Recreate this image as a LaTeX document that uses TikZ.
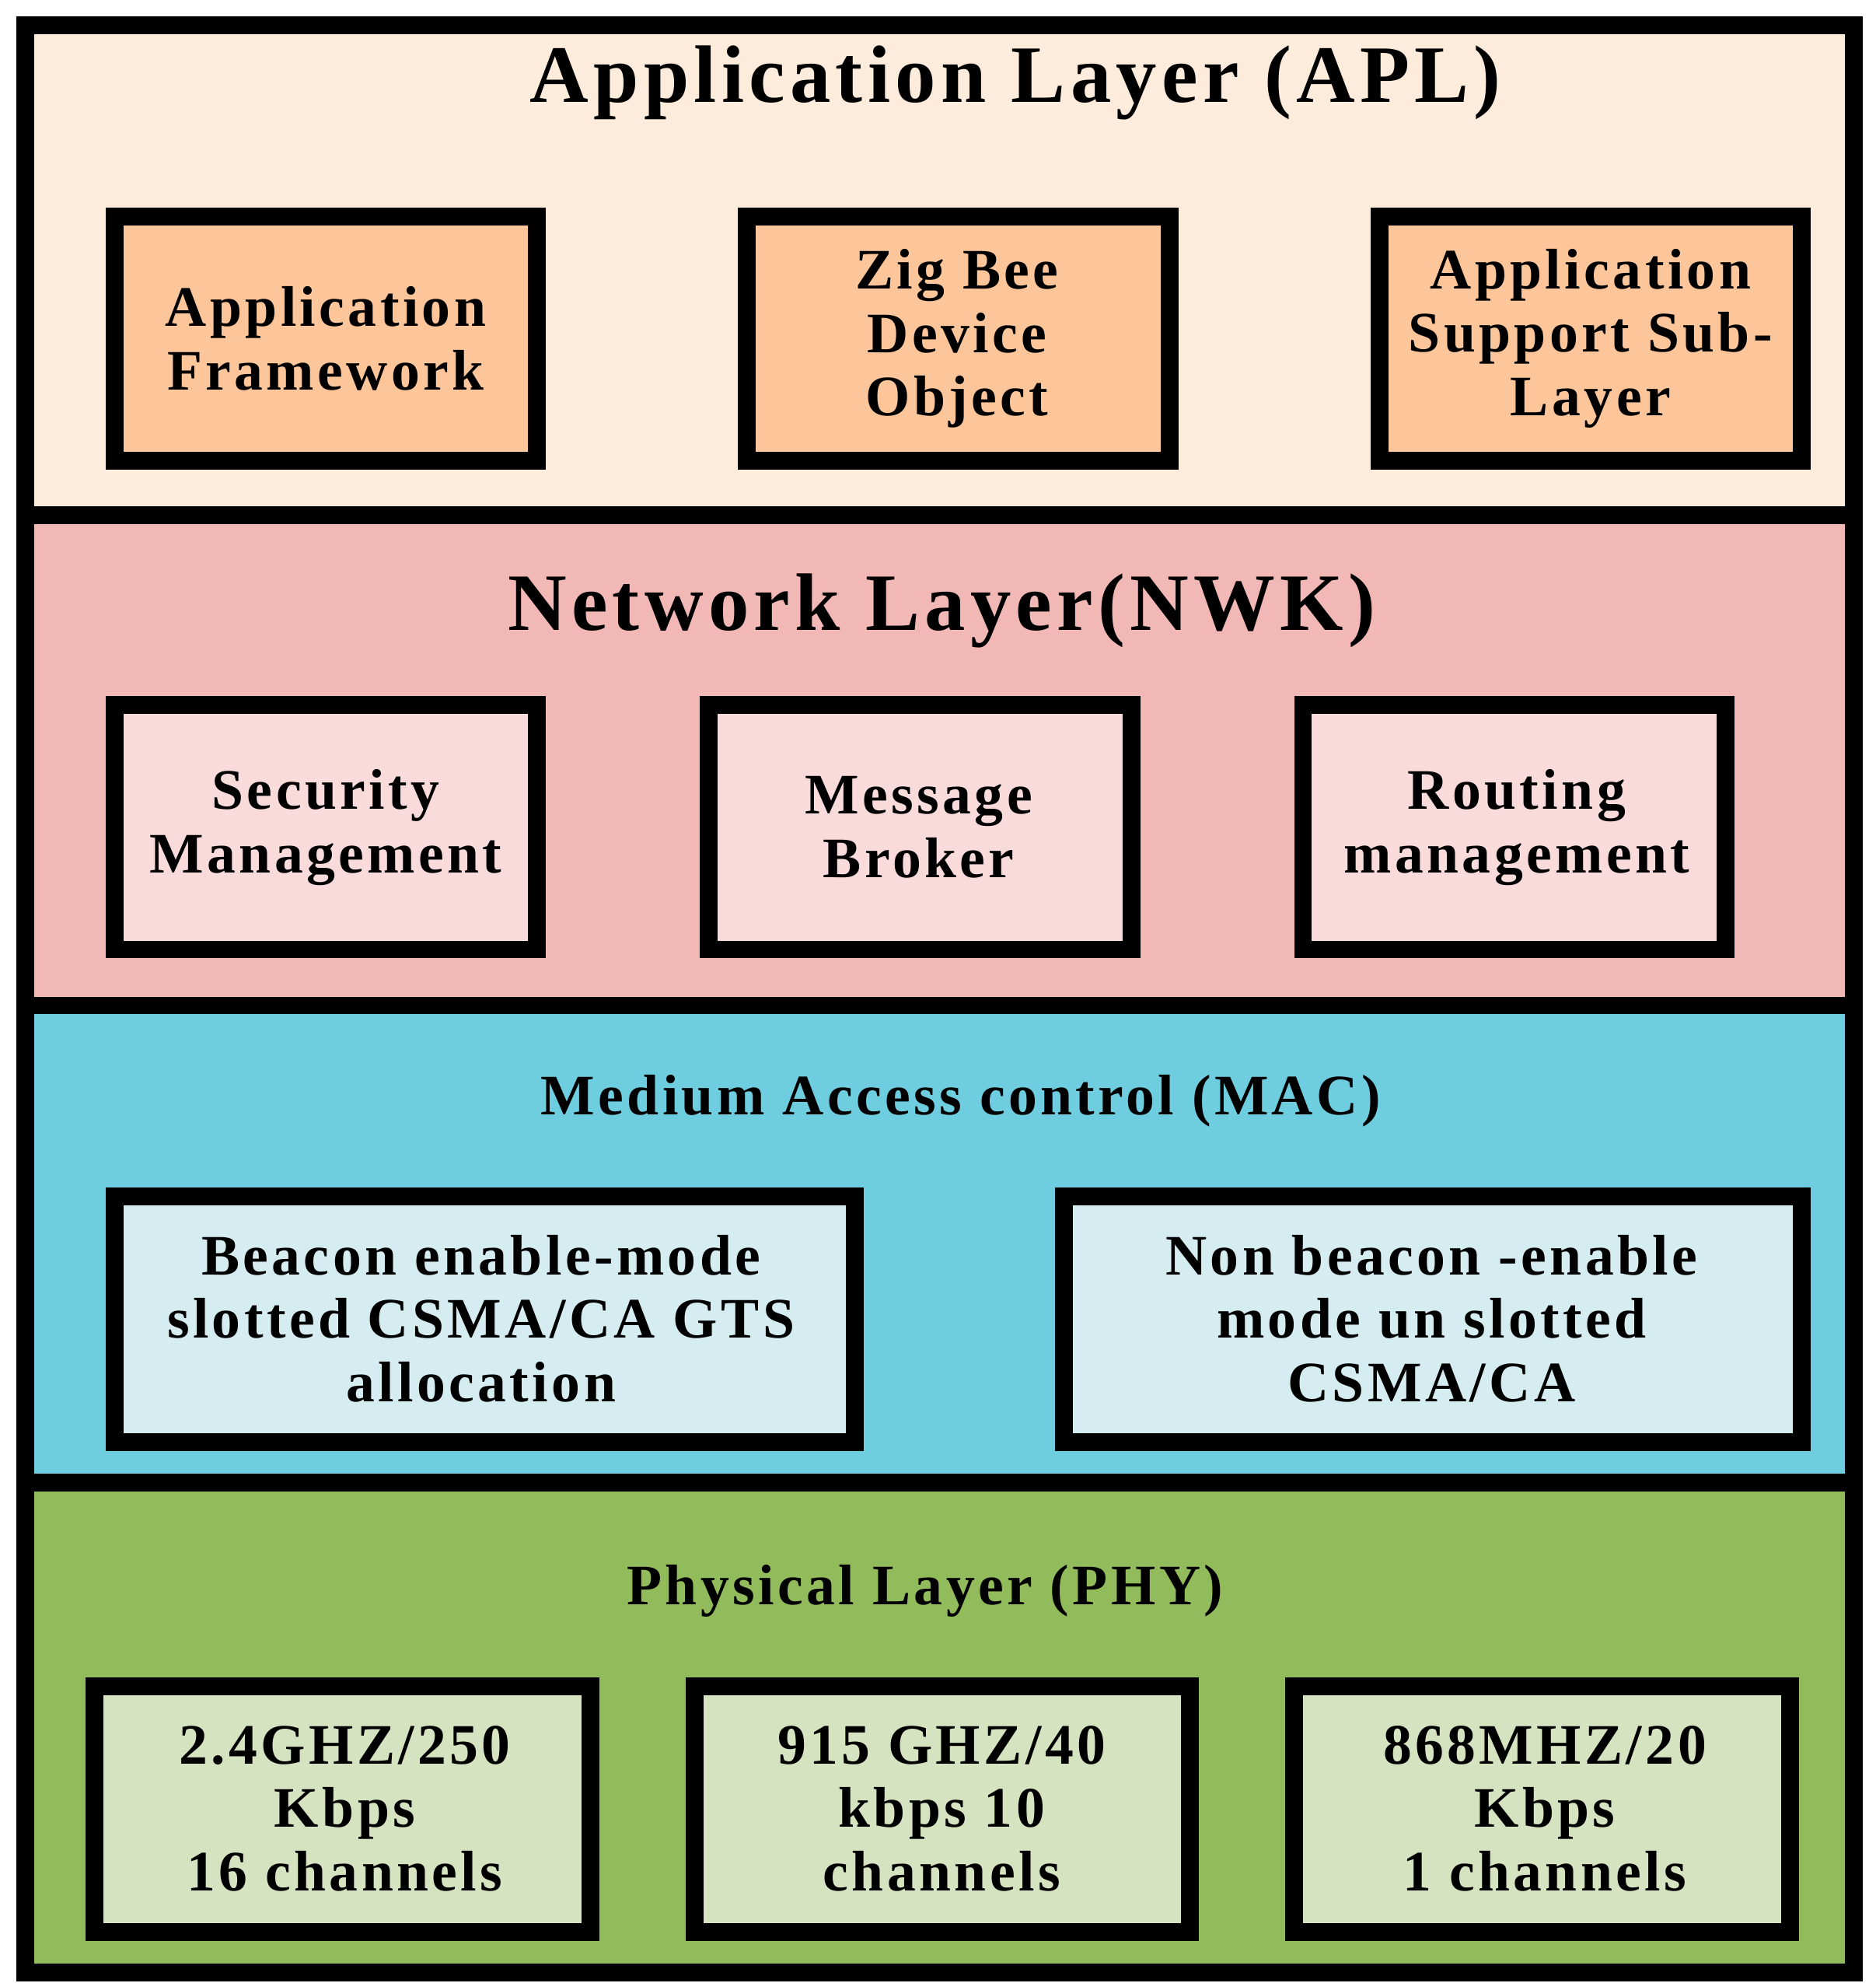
\documentclass[tikz,border=0pt]{standalone}
\usepackage{fontspec}
\setmainfont{Liberation Serif}[LetterSpace=6]
\begin{document}
\begin{tikzpicture}[x=1pt,y=-1pt,
  band/.style={draw=black,line width=14pt},
  box/.style={draw=black,line width=14pt},
  btxt/.style={font=\fontsize{45}{50}\selectfont\bfseries,align=center},
  ttl/.style={font=\fontsize{64}{66}\selectfont\bfseries},
  sttl/.style={font=\fontsize{45}{50}\selectfont\bfseries}]
\useasboundingbox (0,0) rectangle (1474,1558);
\definecolor{apl}{HTML}{FDEBDC}\definecolor{aplb}{HTML}{FCC59A}
\definecolor{nwk}{HTML}{F2B8B5}\definecolor{nwkb}{HTML}{F8DBDA}
\definecolor{mac}{HTML}{6FCDE0}\definecolor{macb}{HTML}{D5ECF1}
\definecolor{phy}{HTML}{92BC5C}\definecolor{phyb}{HTML}{D6E3C0}
\path[band,fill=apl] (20,20) rectangle (1457,405);
\path[band,fill=nwk] (20,405) rectangle (1457,790);
\path[band,fill=mac] (20,790) rectangle (1457,1165);
\path[band,fill=phy] (20,1165) rectangle (1457,1550);
\node[ttl] (t1) at (798,65) {Application Layer (APL)};
\node[ttl] (t2) at (740,480) {Network Layer(NWK)};
\node[sttl] (t3) at (755,865) {Medium Access control (MAC)};
\node[sttl] (t4) at (727,1250) {Physical Layer (PHY)};
% APL
\path[box,fill=aplb] (90,170) rectangle (422,362); \node[btxt] (a1) at (256,266) {Application\\Framework};
\path[box,fill=aplb] (587,170) rectangle (919,362); \node[btxt] (a2) at (752,266) {Zig Bee\\Device\\Object};
\path[box,fill=aplb] (1084,170) rectangle (1416,362); \node[btxt] (a3) at (1250,266) {Application\\Support Sub-\\Layer};
% NWK
\path[box,fill=nwkb] (90,554) rectangle (422,746); \node[btxt] (n1) at (256,650) {Security\\Management};
\path[box,fill=nwkb] (557,554) rectangle (889,746); \node[btxt] (n2) at (722,650) {Message\\Broker};
\path[box,fill=nwkb] (1024,554) rectangle (1356,746); \node[btxt] (n3) at (1192,650) {Routing\\management};
% MAC
\path[box,fill=macb] (90,940) rectangle (672,1133); \node[btxt] (m1) at (378,1036) {Beacon enable-mode\\slotted CSMA/CA GTS\\allocation};
\path[box,fill=macb] (836,940) rectangle (1416,1133); \node[btxt] (m2) at (1125,1036) {Non beacon -enable\\mode un slotted\\CSMA/CA};
% PHY
\path[box,fill=phyb] (74,1325) rectangle (464,1518); \node[btxt] (p1) at (271,1421) {2.4GHZ/250\\Kbps\\16 channels};
\path[box,fill=phyb] (546,1325) rectangle (935,1518); \node[btxt] (p2) at (740,1421) {915 GHZ/40\\kbps 10\\channels};
\path[box,fill=phyb] (1017,1325) rectangle (1407,1518); \node[btxt] (p3) at (1214,1421) {868MHZ/20\\Kbps\\1 channels};
\end{tikzpicture}
\end{document}
